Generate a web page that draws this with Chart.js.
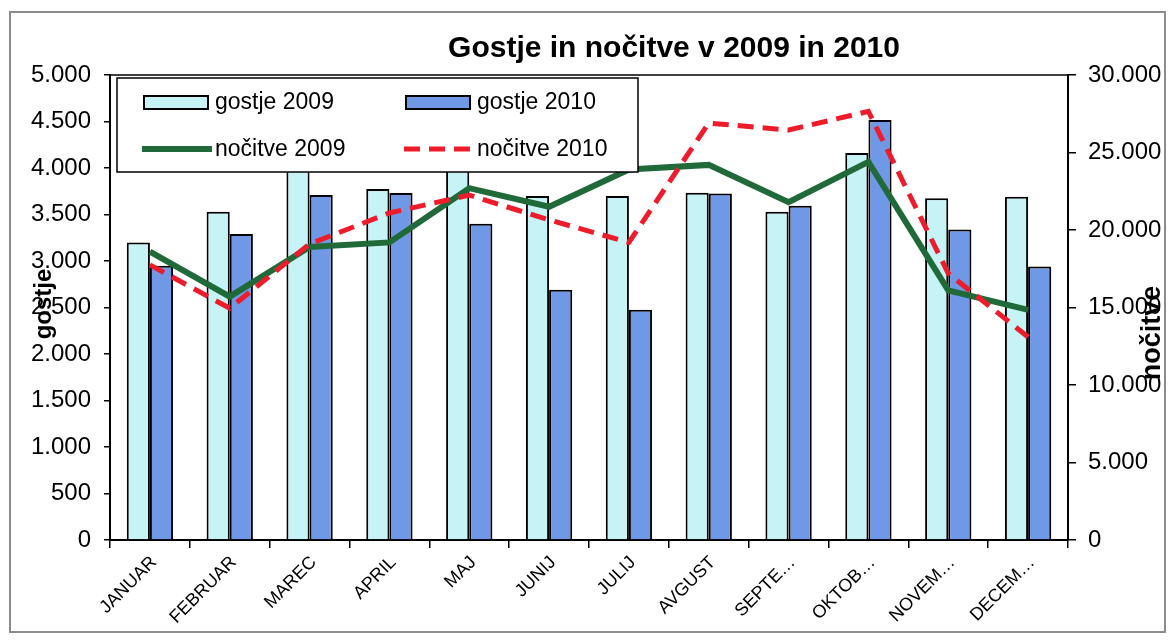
<!DOCTYPE html>
<html>
<head>
<meta charset="utf-8">
<script src="https://cdn.jsdelivr.net/npm/chart.js@4.4.1/dist/chart.umd.min.js"></script>
<style>
  html, body { margin: 0; padding: 0; background: #fff; }
  #okvir { width: 1171px; height: 641px; }
</style>
</head>
<body>
<div id="okvir"><canvas id="grafGostje"></canvas></div>
<script>
// Podatki, odčitani iz slike
const meseci = ['JANUAR', 'FEBRUAR', 'MAREC', 'APRIL', 'MAJ', 'JUNIJ', 'JULIJ', 'AVGUST', 'SEPTE…', 'OKTOB…', 'NOVEM…', 'DECEM…'];
const gostje2009 = [3200, 3530, 4150, 3775, 4100, 3700, 3700, 3735, 3530, 4160, 3675, 3690];
const gostje2010 = [2950, 3290, 3710, 3730, 3400, 2690, 2475, 3725, 3595, 4515, 3340, 2940];
const nocitve2009 = [18600, 15700, 18900, 19200, 22700, 21500, 23900, 24200, 21800, 24400, 16100, 14850];
const nocitve2010 = [17750, 14950, 19100, 21100, 22250, 20650, 19200, 26900, 26450, 27650, 17200, 13100];

const naslov = 'Gostje in nočitve v 2009 in 2010';
const naslovLevo = 'gostje';
const naslovDesno = 'nočitve';

const pisava = '"Liberation Sans", Arial, sans-serif';

// pika kot ločilo tisočic
const tisocice = v => String(v).replace(/\B(?=(\d{3})+(?!\d))/g, '.');

// Naslov, naslova osi, legenda in okvir narisani na platno
const okrasje = {
    id: 'okrasje',
    afterDraw(chart) {
        const ctx = chart.ctx;
        const a = chart.chartArea;
        ctx.save();

        // zunanji okvir
        ctx.strokeStyle = '#8c8c8c';
        ctx.lineWidth = 2;
        ctx.strokeRect(10, 12, 1155, 620);

        // zgornja črta grafa
        ctx.strokeStyle = '#000';
        ctx.lineWidth = 1.5;
        ctx.beginPath();
        ctx.moveTo(a.left, a.top);
        ctx.lineTo(a.right, a.top);
        ctx.stroke();

        // naslov
        ctx.fillStyle = '#000';
        ctx.font = 'bold 30px ' + pisava;
        ctx.textAlign = 'center';
        ctx.textBaseline = 'middle';
        ctx.fillText(naslov, 674, 49);

        // naslova osi (navpično)
        ctx.save();
        ctx.font = 'bold 24px ' + pisava;
        ctx.translate(44, 304);
        ctx.rotate(-Math.PI / 2);
        ctx.fillText(naslovLevo, 0, 0);
        ctx.restore();
        ctx.save();
        ctx.font = 'bold 27px ' + pisava;
        ctx.translate(1153, 333);
        ctx.rotate(-Math.PI / 2);
        ctx.fillText(naslovDesno, 0, 0);
        ctx.restore();

        // legenda v polju grafa
        ctx.fillStyle = '#fff';
        ctx.fillRect(117, 78, 521, 94);
        ctx.strokeStyle = '#000';
        ctx.lineWidth = 1.5;
        ctx.strokeRect(117, 78, 521, 94);

        const ds = chart.data.datasets;
        const mesta = [
            { x: 144, y: 102 }, { x: 406, y: 102 },
            { x: 144, y: 149 }, { x: 406, y: 149 }
        ];
        ctx.font = '23px ' + pisava;
        ctx.textAlign = 'left';
        ds.forEach((d, i) => {
            const m = mesta[i];
            if (d.type === 'line') {
                ctx.strokeStyle = d.borderColor;
                ctx.lineWidth = d.borderWidth;
                ctx.setLineDash(d.borderDash || []);
                ctx.beginPath();
                ctx.moveTo(m.x - 2, m.y);
                ctx.lineTo(m.x + 68, m.y);
                ctx.stroke();
                ctx.setLineDash([]);
            } else {
                ctx.fillStyle = d.backgroundColor;
                ctx.fillRect(m.x, m.y - 6, 64, 13);
                ctx.strokeStyle = '#000';
                ctx.lineWidth = 2;
                ctx.strokeRect(m.x, m.y - 6, 64, 13);
            }
            ctx.fillStyle = '#000';
            ctx.fillText(d.label, m.x + 71, m.y + 1);
        });
        ctx.restore();
    }
};

new Chart(document.getElementById('grafGostje'), {
    data: {
        labels: meseci,
        datasets: [
            { type: 'bar', label: 'gostje 2009', data: gostje2009, yAxisID: 'y',
              backgroundColor: '#c6f3f6', borderColor: '#000', borderWidth: 2, order: 3 },
            { type: 'bar', label: 'gostje 2010', data: gostje2010, yAxisID: 'y',
              backgroundColor: '#6f98e6', borderColor: '#000', borderWidth: 2, order: 3 },
            { type: 'line', label: 'nočitve 2009', data: nocitve2009, yAxisID: 'y1',
              borderColor: '#1f6a38', borderWidth: 6, pointRadius: 0, tension: 0, order: 2 },
            { type: 'line', label: 'nočitve 2010', data: nocitve2010, yAxisID: 'y1',
              borderColor: '#ee1c2a', borderWidth: 5, borderDash: [16, 9], pointRadius: 0, tension: 0, order: 1 }
        ]
    },
    options: {
        responsive: true,
        maintainAspectRatio: false,
        animation: false,
        layout: { padding: { top: 75, left: 0, right: 0, bottom: 0 } },
        datasets: {
            bar: { categoryPercentage: 0.58, barPercentage: 1.0 }
        },
        plugins: {
            legend: { display: false },
            title: { display: false },
            tooltip: { enabled: false }
        },
        scales: {
            x: {
                afterFit: s => { s.height = 101; },
                grid: { offset: true, drawOnChartArea: false, drawTicks: true, tickLength: 8, color: '#000', lineWidth: 1.5 },
                border: { color: '#000', width: 2 },
                ticks: {
                    color: '#000', maxRotation: 45, minRotation: 45, autoSkip: false, padding: 4, labelOffset: 4,
                    font: { family: pisava, size: 18 }
                }
            },
            y: {
                position: 'left',
                min: 0, max: 5000,
                afterFit: s => { s.width = 110; },
                grid: { drawOnChartArea: false, drawTicks: true, tickLength: 6, color: '#000', lineWidth: 1.5 },
                border: { color: '#000', width: 2 },
                ticks: {
                    stepSize: 500, color: '#000', padding: 13,
                    font: { family: pisava, size: 24 },
                    callback: v => tisocice(v)
                }
            },
            y1: {
                position: 'right',
                min: 0, max: 30000,
                afterFit: s => { s.width = 103; },
                grid: { drawOnChartArea: false, drawTicks: true, tickLength: 8, color: '#000', lineWidth: 1.5 },
                border: { color: '#000', width: 2 },
                ticks: {
                    stepSize: 5000, color: '#000', padding: 12,
                    font: { family: pisava, size: 24 },
                    callback: v => tisocice(v)
                }
            }
        }
    },
    plugins: [okrasje]
});
</script>
</body>
</html>
